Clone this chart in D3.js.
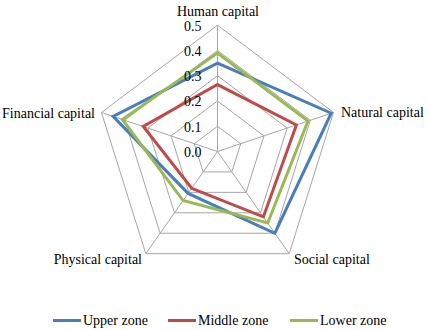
<!DOCTYPE html>
<html>
<head>
<meta charset="utf-8">
<script src="https://cdn.jsdelivr.net/npm/d3@7"></script>
<style>
  html, body { margin: 0; padding: 0; background: #fff; }
  text { font-family: "Liberation Serif", "Times New Roman", serif; fill: #000; }
</style>
</head>
<body>
<svg id="chart" width="428" height="330"></svg>
<script>
const categories = ["Human capital", "Natural capital", "Social capital", "Physical capital", "Financial capital"];
const seriesNames = ["Upper zone", "Middle zone", "Lower zone"];
const upperZone = [0.35, 0.49, 0.40, 0.205, 0.45];
const middleZone = [0.265, 0.34, 0.32, 0.18, 0.32];
const lowerZone = [0.39, 0.39, 0.35, 0.24, 0.41];
const ticks = [0.0, 0.1, 0.2, 0.3, 0.4, 0.5];

const colors = ["#4a7ebb", "#be4b48", "#98b954"];
const series = [upperZone, middleZone, lowerZone];

const cx = 217.5, cy = 151.5;
// excel squashes the pentagon a little horizontally
const rx = d3.scaleLinear().domain([0, 0.5]).range([0, 122]);
const ry = d3.scaleLinear().domain([0, 0.5]).range([0, 126.3]);
const angle = d3.scaleLinear().domain([0, categories.length]).range([0, 2 * Math.PI]);

function pt(i, v) {
  const a = angle(i);
  return [cx + rx(v) * Math.sin(a), cy - ry(v) * Math.cos(a)];
}

const svg = d3.select("#chart");
const line = d3.line().curve(d3.curveLinearClosed);

// grid rings
svg.append("g")
  .selectAll("path")
  .data(ticks.filter(t => t > 0))
  .enter()
  .append("path")
  .attr("d", t => line(categories.map((_, i) => pt(i, t))))
  .attr("fill", "none")
  .attr("stroke", "#a6a6a6")
  .attr("stroke-width", 1);

// spokes
svg.append("g")
  .selectAll("line")
  .data(categories)
  .enter()
  .append("line")
  .attr("x1", cx).attr("y1", cy)
  .attr("x2", (_, i) => pt(i, 0.5)[0])
  .attr("y2", (_, i) => pt(i, 0.5)[1])
  .attr("stroke", "#a6a6a6")
  .attr("stroke-width", 1);

// series
svg.append("g")
  .selectAll("path")
  .data(series)
  .enter()
  .append("path")
  .attr("d", d => line(d.map((v, i) => pt(i, v))))
  .attr("fill", "none")
  .attr("stroke", (_, i) => colors[i])
  .attr("stroke-width", 3)
  .attr("stroke-linejoin", "miter");

// tick labels
svg.append("g")
  .selectAll("text")
  .data(ticks)
  .enter()
  .append("text")
  .attr("x", cx - 16)
  .attr("y", t => cy - ry(t) + 0.5)
  .attr("dy", "0.35em")
  .attr("text-anchor", "end")
  .style("font-size", "14px")
  .text(t => t.toFixed(1));

// category labels
const labelPos = [
  {x: 218, y: 11.5, anchor: "middle"},
  {x: 341, y: 112, anchor: "start"},
  {x: 294, y: 259, anchor: "start"},
  {x: 142, y: 259, anchor: "end"},
  {x: 95, y: 113, anchor: "end"}
];
svg.append("g")
  .selectAll("text")
  .data(categories)
  .enter()
  .append("text")
  .attr("x", (_, i) => labelPos[i].x)
  .attr("y", (_, i) => labelPos[i].y)
  .attr("dy", "0.35em")
  .attr("text-anchor", (_, i) => labelPos[i].anchor)
  .style("font-size", "14px")
  .text(d => d);

// legend
const legendX = [53, 168, 290];
const legend = svg.append("g")
  .selectAll("g")
  .data(seriesNames)
  .enter()
  .append("g")
  .attr("transform", (_, i) => "translate(" + legendX[i] + ",320.5)");
legend.append("line")
  .attr("x1", 0).attr("x2", 28)
  .attr("stroke", (_, i) => colors[i])
  .attr("stroke-width", 3);
legend.append("text")
  .attr("x", 30)
  .attr("dy", "0.35em")
  .style("font-size", "14px")
  .text(d => d);
</script>
</body>
</html>
